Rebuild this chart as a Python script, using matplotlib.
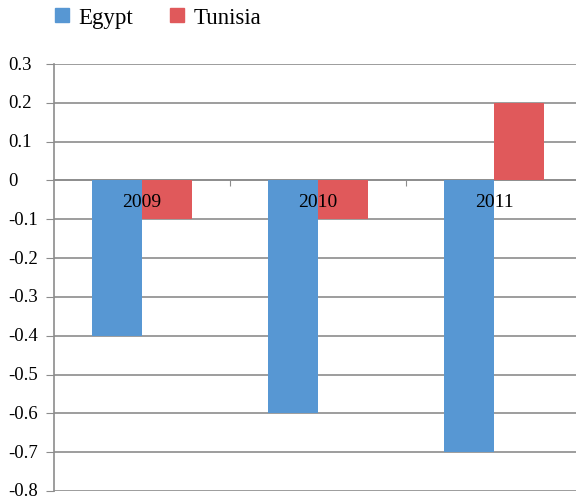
import matplotlib
matplotlib.use("Agg")
import matplotlib.pyplot as plt
import matplotlib.transforms as mtransforms
import numpy as np
from matplotlib.patches import Patch

categories = ["2009", "2010", "2011"]
egypt = [-0.4, -0.6, -0.7]
tunisia = [-0.1, -0.1, 0.2]
yticks = [0.3, 0.2, 0.1, 0, -0.1, -0.2, -0.3, -0.4, -0.5, -0.6, -0.7, -0.8]
ytick_labels = ["0.3", "0.2", "0.1", "0", "-0.1", "-0.2", "-0.3", "-0.4", "-0.5", "-0.6", "-0.7", "-0.8"]

blue = "#5797D3"
red = "#E0595B"
font = ["Liberation Serif", "DejaVu Serif"]
plt.rcParams["font.family"] = font

fig = plt.figure(figsize=(5.76, 5.02), dpi=100)
ax = fig.add_axes([54/576, 1-492/502, 1-54/576, (492-65)/502])

x = np.arange(len(categories))
w = 0.286
ax.bar(x - w/2, egypt, w, color=blue, zorder=3)
ax.bar(x + w/2, tunisia, w, color=red, zorder=3)

ax.set_xlim(-0.5, 2.466)
ax.set_ylim(-0.8, 0.3)
ax.set_yticks(yticks)
ax.set_yticklabels([])
ax.yaxis.grid(True, color="#8c8c8c", linewidth=1.2, zorder=0)
ax.set_axisbelow(True)
ax.tick_params(axis="y", direction="out", length=6, color="#8c8c8c")
trans = mtransforms.blended_transform_factory(fig.transFigure, ax.transData)
for v, lab in zip(yticks, ytick_labels):
    ax.text(8/576, v, lab, transform=trans, ha="left", va="center", fontsize=13.5, clip_on=False)

ax.spines["bottom"].set_position(("data", 0))
ax.spines["bottom"].set_color("#8c8c8c")
ax.spines["bottom"].set_linewidth(1.2)
ax.spines["left"].set_color("#8c8c8c")
ax.spines["left"].set_linewidth(1.2)
ax.spines["top"].set_visible(False)
ax.spines["right"].set_visible(False)
ax.set_xticks([0.5, 1.5])
ax.set_xticklabels([])
ax.tick_params(axis="x", direction="out", length=4, color="#8c8c8c")
for xi, c in zip(x, categories):
    ax.text(xi, -0.053, c, ha="center", va="center", fontsize=14, zorder=5)

handles = [Patch(color=blue, label="Egypt"), Patch(color=red, label="Tunisia")]
fig.legend(handles=handles, loc="upper left", bbox_to_anchor=(0.06, 1.025), ncol=2,
           frameon=False, fontsize=16.5, handlelength=0.6, handleheight=0.6,
           handletextpad=0.42, columnspacing=1.6)

fig.savefig("out.png", dpi=100)
